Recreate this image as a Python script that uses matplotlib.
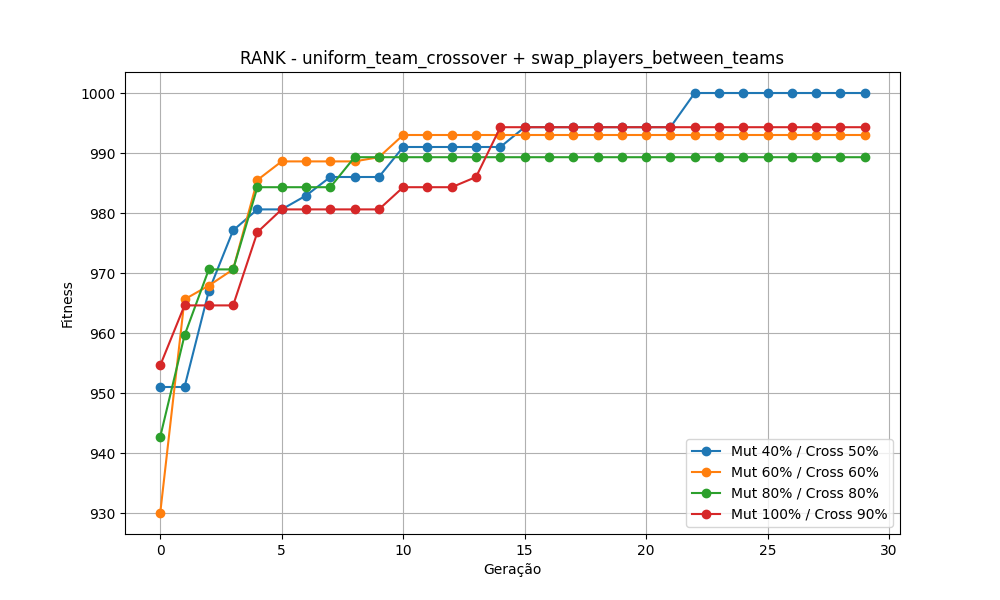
import matplotlib
matplotlib.use("Agg")
import matplotlib.pyplot as plt

gens = list(range(30))
mut40 = [951, 951, 967, 977.1, 980.6, 980.6, 982.9, 986, 986, 986, 991, 991, 991, 991, 991] + [994.3]*7 + [1000]*8
mut60 = [930, 965.6, 967.9, 970.6, 985.5, 988.6, 988.6, 988.6, 988.6, 989.3] + [993]*20
mut80 = [942.7, 959.6, 970.6, 970.6, 984.3, 984.3, 984.3, 984.3] + [989.3]*22
mut100 = [954.6, 964.6, 964.6, 964.6, 976.8, 980.6, 980.6, 980.6, 980.6, 980.6, 984.3, 984.3, 984.3, 986] + [994.3]*16
labels = ["Mut 40% / Cross 50%", "Mut 60% / Cross 60%", "Mut 80% / Cross 80%", "Mut 100% / Cross 90%"]

fig, ax = plt.subplots(figsize=(10, 6), dpi=100)
for s, l in zip([mut40, mut60, mut80, mut100], labels):
    ax.plot(gens, s, marker='o', label=l)
ax.set_title("RANK - uniform_team_crossover + swap_players_between_teams")
ax.set_xlabel("Geração")
ax.set_ylabel("Fitness")
ax.grid(True)
ax.legend(loc='lower right')
fig.savefig("out.png")
